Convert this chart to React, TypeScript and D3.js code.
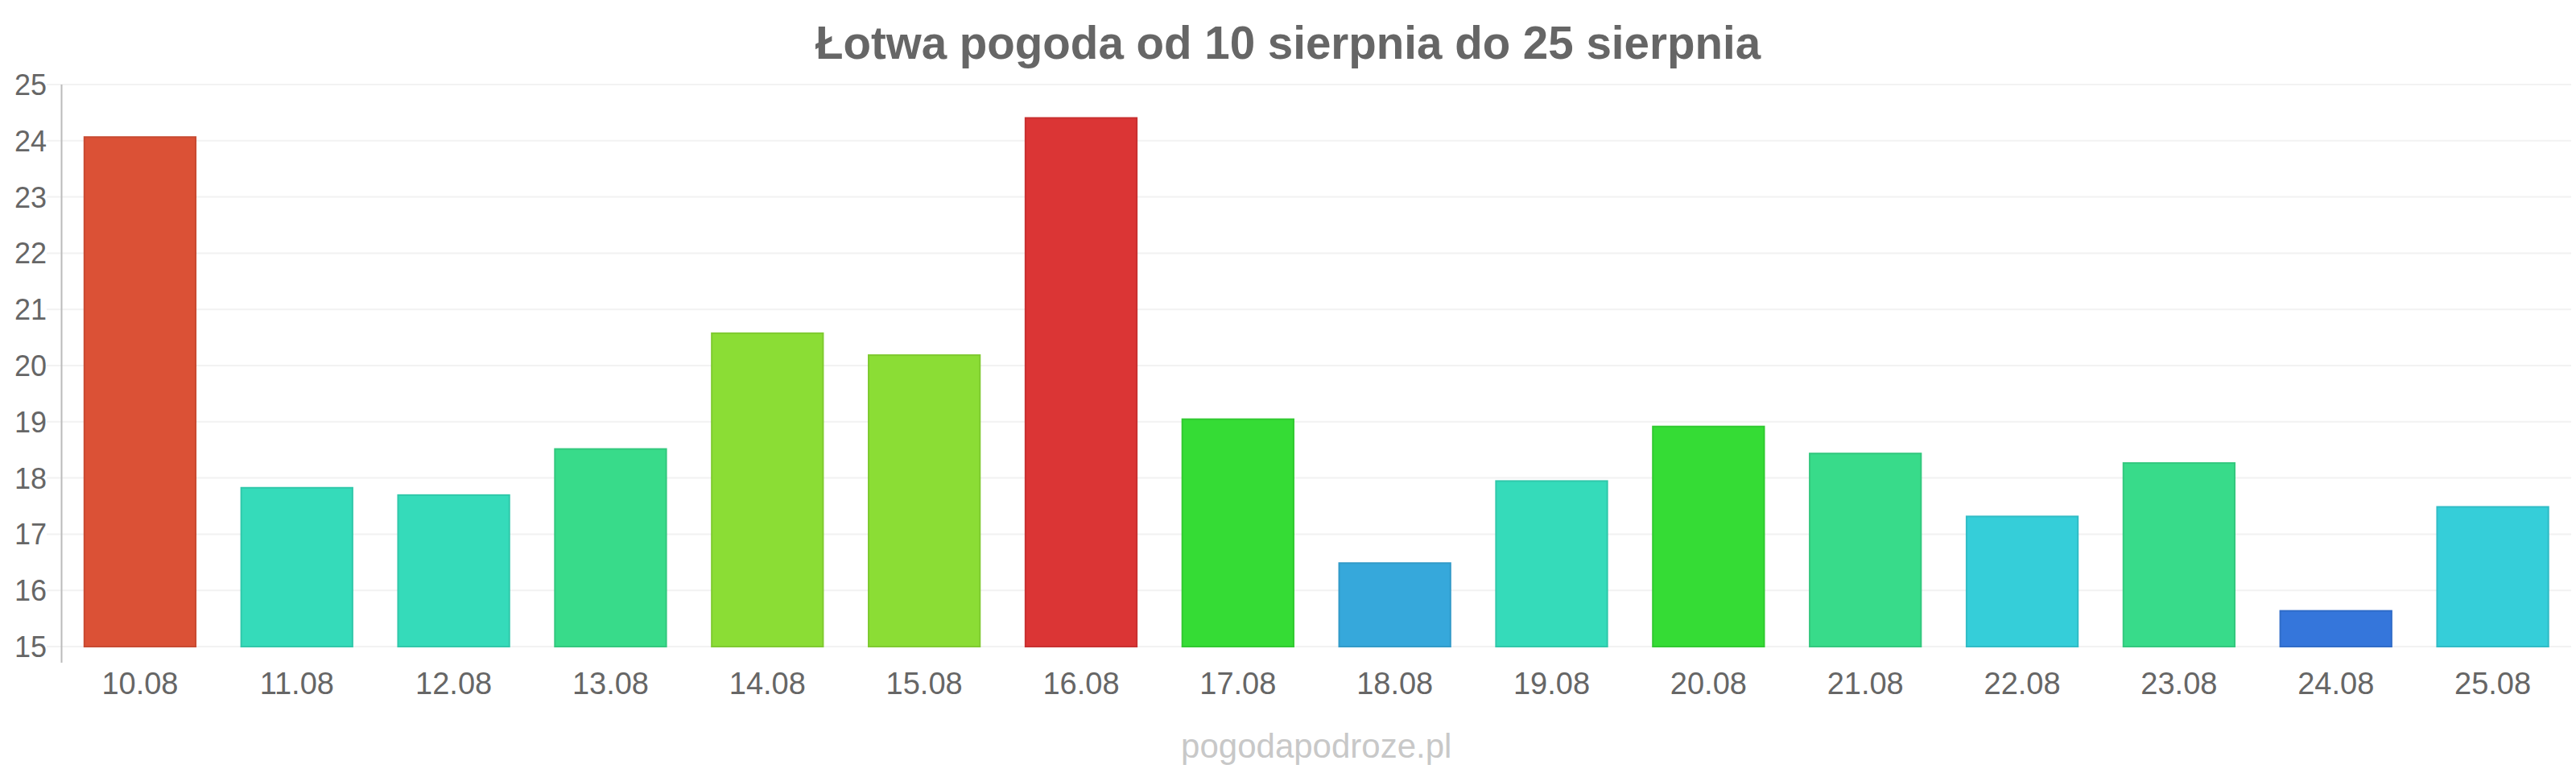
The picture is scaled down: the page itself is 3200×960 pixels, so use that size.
import React from "react";
import * as d3 from "d3";

const dates = ["10.08","11.08","12.08","13.08","14.08","15.08","16.08","17.08","18.08","19.08","20.08","21.08","22.08","23.08","24.08","25.08"];
const temps = [24.08,17.84,17.71,18.53,20.59,20.2,24.42,19.06,16.5,17.96,18.93,18.45,17.33,18.28,15.65,17.5];
const colors = ["#db5136","#35dbba","#35dbba","#38db8a","#8bdd35","#8bdd35","#db3535","#35dc35","#36a8db","#35dbba","#35dc35","#38db8a","#35ced9","#38db8a","#3576db","#35ced9"];
const yTicks = [15,16,17,18,19,20,21,22,23,24,25];
const title = "Łotwa pogoda od 10 sierpnia do 25 sierpnia";
const watermark = "pogodapodroze.pl";

const W = 3200, H = 960;
const left = 76.5, right = 3194, top = 105, bottom = 803;
const FONT = "'Liberation Sans', Arial, sans-serif";

export default function App() {
  const x = d3.scaleBand<string>().domain(dates).range([left, right]).paddingInner(0.28).paddingOuter(0.14);
  const y = d3.scaleLinear().domain([15, 25]).range([bottom, top]);
  return (
    <svg width={W} height={H} viewBox={`0 0 ${W} ${H}`} style={{ position: "absolute", left: 0, top: 0, background: "#fff" }}>
      <text x={W / 2} y={73} textAnchor="middle" fontFamily={FONT} fontWeight="bold" fontSize={56.5} fill="#666">{title}</text>
      {yTicks.map(t => (
        <g key={t}>
          <line x1={58} x2={right} y1={y(t)} y2={y(t)} stroke="#f2f2f2" strokeWidth={2} />
          <text x={58} y={y(t)} dy="0.36em" textAnchor="end" fontFamily={FONT} fontSize={36} fill="#666">{t}</text>
        </g>
      ))}
      <line x1={left} x2={left} y1={top} y2={823} stroke="#bbb" strokeWidth={2} />
      {dates.map((d, i) => {
        const c = d3.color(colors[i])!;
        const stroke = c.darker(0.25).formatHex();
        const yt = y(temps[i]);
        return (
          <g key={d}>
            <rect x={x(d)! + 1} y={yt + 1} width={x.bandwidth() - 2} height={y(15) - yt - 1} fill={colors[i]} stroke={stroke} strokeWidth={2} />
            <text x={x(d)! + x.bandwidth() / 2} y={862} textAnchor="middle" fontFamily={FONT} fontSize={38} fill="#666">{d}</text>
          </g>
        );
      })}
      <text x={(left + right) / 2} y={941} textAnchor="middle" fontFamily={FONT} fontSize={42} fill="#c8c8c8">{watermark}</text>
    </svg>
  );
}
